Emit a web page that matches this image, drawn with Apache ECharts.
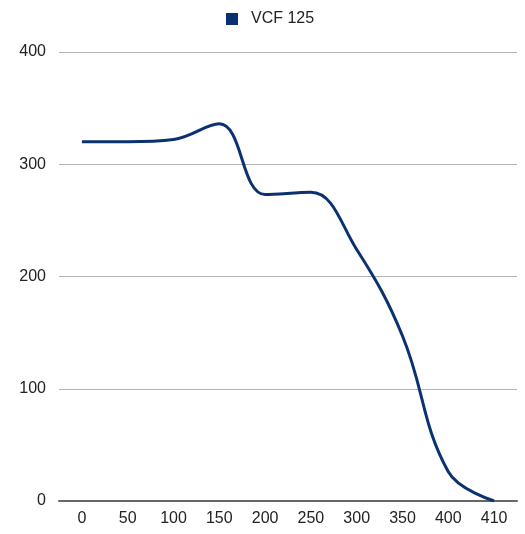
<!DOCTYPE html>
<html style="height: 100%">
  <head>
    <meta charset="utf-8" />
  </head>
  <body style="height: 100%; margin: 0; background: #fff">
    <div id="container" style="height: 100%"></div>
    <script
      type="text/javascript"
      src="https://cdn.jsdelivr.net/npm/echarts@6.0.0/dist/echarts.min.js"
    ></script>

    <script type="text/javascript">
      var dom = document.getElementById("container");
      var myChart = echarts.init(dom);

      let categories = ["0", "50", "100", "150", "200", "250", "300", "350", "400", "410"];
      let vcf125 = [320, 320, 322, 336, 273, 275, 224, 147, 26, 0];

      let option = {
        animation: false,
        textStyle: { fontFamily: "Liberation Sans" },
        legend: {
          top: 6,
          left: 221,
          icon: "rect",
          itemWidth: 12,
          itemHeight: 12,
          itemGap: 8,
          textStyle: { fontSize: 16, color: "#222", padding: [0, 0, 0, 8] },
          data: ["VCF 125"],
        },
        grid: { left: 59, right: 8, top: 52, bottom: 33 },
        xAxis: {
          type: "category",
          data: categories,
          boundaryGap: true,
          axisTick: { show: false },
          axisLine: { lineStyle: { color: "#666", width: 2 } },
          axisLabel: { color: "#222", fontSize: 16, margin: 10 },
        },
        yAxis: {
          type: "value",
          min: 0,
          max: 400,
          interval: 100,
          axisLine: { show: false },
          axisTick: { show: false },
          axisLabel: { color: "#222", fontSize: 16, margin: 13 },
          splitLine: { lineStyle: { color: "#b3b3b3", width: 1 } },
        },
        series: [
          {
            name: "VCF 125",
            type: "line",
            data: vcf125,
            smooth: 0.4,
            showSymbol: false,
            itemStyle: { color: "#0a3170" },
            lineStyle: { color: "#0a3170", width: 3 },
          },
        ],
      };

      myChart.setOption(option);
    </script>
  </body>
</html>
